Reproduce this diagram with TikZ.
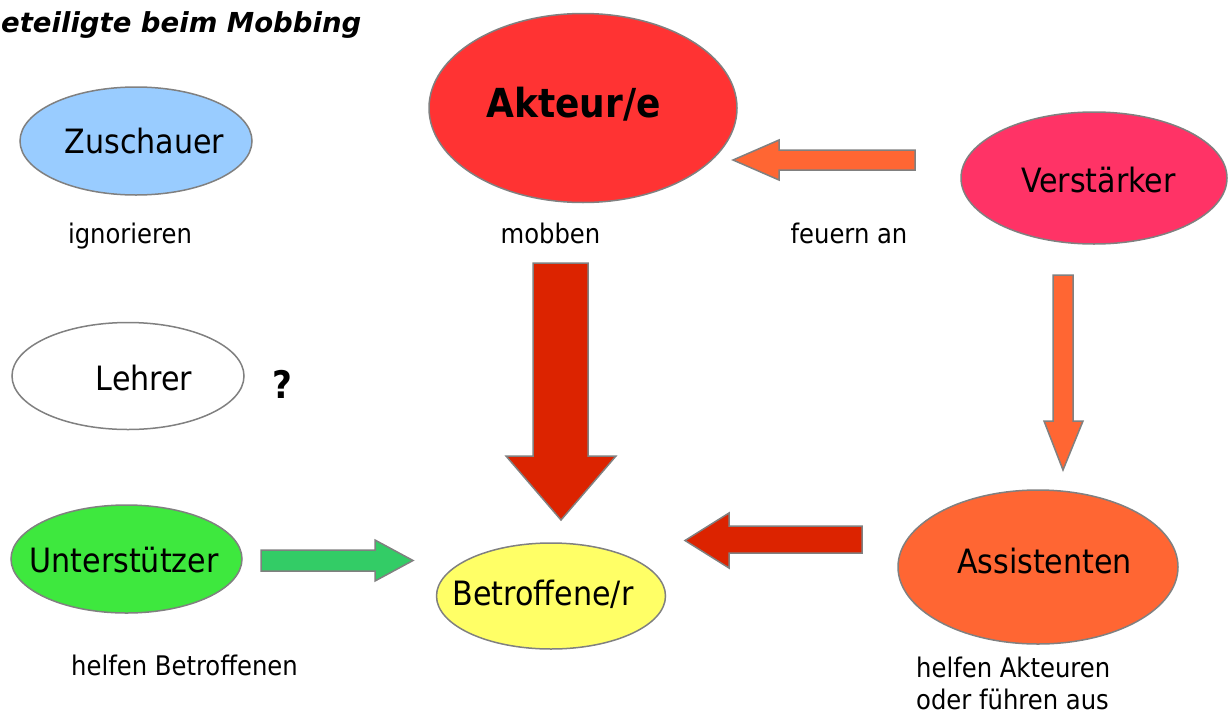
\documentclass[tikz,border=0pt]{standalone}
\usepackage{fontspec}
\setmainfont{DejaVu Sans Condensed}
\newfontfamily\ttlfont{DejaVu Sans}
\usetikzlibrary{shapes.geometric}
\definecolor{cZus}{HTML}{99CCFF}
\definecolor{cUnt}{HTML}{3EE83E}
\definecolor{cBet}{HTML}{FFFF66}
\definecolor{cAkt}{HTML}{FF3333}
\definecolor{cVer}{HTML}{FF3366}
\definecolor{cAss}{HTML}{FF6633}
\definecolor{cOra}{HTML}{FF6633}
\definecolor{cRed}{HTML}{DC2300}
\definecolor{cGrn}{HTML}{33CC66}
\definecolor{cEdge}{HTML}{808080}
\begin{document}
\begin{tikzpicture}[x=1pt,y=-1pt,
  ell/.style={ellipse, draw=cEdge, line width=1.5pt, inner sep=0pt},
  lab/.style={font=\fontsize{33.5}{38}\selectfont, inner sep=0pt, anchor=base},
  sml/.style={font=\fontsize{27}{32}\selectfont, inner sep=0pt, anchor=base},
  blockarrow/.style={draw=cEdge, line width=1.5pt, line join=miter}]
\useasboundingbox (0,0) rectangle (1231,715);

% title (as printed in the reference, cut at the left edge)
\node[inner sep=0pt, anchor=base west, font=\ttlfont\bfseries\itshape\fontsize{27.5}{32}\selectfont] (title) at (1,32) {eteiligte beim Mobbing};

% ellipses
\node[ell, fill=cZus, minimum width=232pt, minimum height=108pt] (zus) at (136,141) {};
\node[ell, fill=white, minimum width=232pt, minimum height=107pt] (leh) at (128,376) {};
\node[ell, fill=cUnt, minimum width=231pt, minimum height=108pt] (unt) at (126.5,559) {};
\node[ell, fill=cBet, minimum width=229pt, minimum height=106pt] (bet) at (551,596) {};
\node[ell, fill=cAkt, minimum width=308pt, minimum height=189pt] (akt) at (583,108) {};
\node[ell, fill=cVer, minimum width=266pt, minimum height=132pt] (ver) at (1094,178) {};
\node[ell, fill=cAss, minimum width=280pt, minimum height=154pt] (ass) at (1038,567) {};

% ellipse texts
\node[lab] (zusT) at (144.5,153) {Zuschauer};
\node[lab] (lehT) at (144,390) {Lehrer};
\node[lab] (untT) at (124,572) {Unterstützer};
\node[lab] (betT) at (543,605) {Betroffene/r};
\node[lab, font=\bfseries\fontsize{40}{46}\selectfont] (aktT) at (573.5,117) {Akteur/e};
\node[lab] (verT) at (1098.5,192) {Verstärker};
\node[lab] (assT) at (1044.5,573) {Assistenten};
\node[inner sep=0pt, anchor=base, font=\bfseries\fontsize{38}{44}\selectfont] (q) at (282,398) {?};

% descriptions
\node[sml] (ign) at (130,243) {ignorieren};
\node[sml] (mob) at (550.5,243) {mobben};
\node[sml] (feu) at (849,243) {feuern an};
\node[sml] (hb) at (184.5,675) {helfen Betroffenen};
\node[sml, anchor=base west] (ha1) at (916,677) {helfen Akteuren};
\node[sml, anchor=base west] (ha2) at (916,709) {oder führen aus};

% block arrows
% Verstaerker -> Akteur (orange, left)
\draw[blockarrow, fill=cOra] (915,150) -- (779,150) -- (779,140) -- (733,160) -- (779,180) -- (779,170) -- (915,170) -- cycle;
% Akteur -> Betroffene (big red, down)
\draw[blockarrow, fill=cRed] (533,263) -- (588,263) -- (588,456) -- (616,456) -- (561,520) -- (506,456) -- (533,456) -- cycle;
% Verstaerker -> Assistenten (orange, down)
\draw[blockarrow, fill=cOra] (1053,275) -- (1073,275) -- (1073,421) -- (1083,421) -- (1063,470) -- (1044,421) -- (1053,421) -- cycle;
% Assistenten -> Betroffene (red, left)
\draw[blockarrow, fill=cRed] (862,526) -- (729,526) -- (729,513) -- (685,540.5) -- (729,568) -- (729,553) -- (862,553) -- cycle;
% Unterstuetzer -> Betroffene (green, right)
\draw[blockarrow, fill=cGrn] (261,550) -- (375,550) -- (375,540) -- (413,560.5) -- (375,581) -- (375,571) -- (261,571) -- cycle;
\end{tikzpicture}
\end{document}
